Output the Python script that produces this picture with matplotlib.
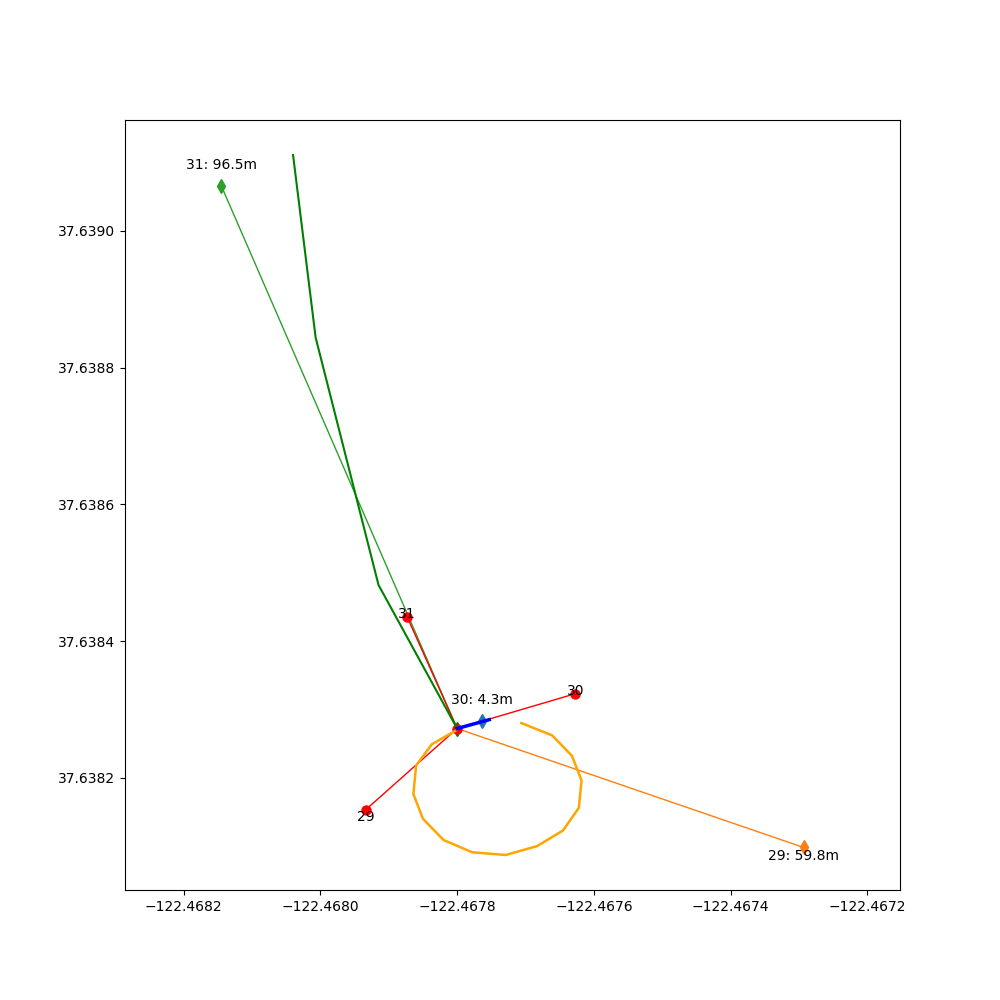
import matplotlib

matplotlib.use("Agg")
import matplotlib.pyplot as plt

# centre point (shared origin of all spokes)
center = (-122.467800, 37.638272)

# numbered stops (red dots)
stop_ids = ["31", "30", "29"]
stop_lon = [-122.467873, -122.467627, -122.467934]
stop_lat = [37.638435, 37.638323, 37.638153]

# projected positions with distance labels (diamonds)
proj_lon = [-122.468145, -122.467763, -122.467293]
proj_lat = [37.639066, 37.638283, 37.638098]
proj_dist = [96.5, 4.3, 59.8]

# green track
track_lon = [-122.468040, -122.468007, -122.467915, -122.467800]
track_lat = [37.639111, 37.638844, 37.638482, 37.638272]

# short blue heading segment
head_lon = [-122.467800, -122.467753]
head_lat = [37.638272, 37.638285]

# orange loop
loop_lon = [-122.467706, -122.467661, -122.467632, -122.467618, -122.467622,
            -122.467645, -122.467683, -122.467729, -122.467778, -122.467820,
            -122.467850, -122.467864, -122.467860, -122.467837, -122.467802]
loop_lat = [37.638280, 37.638262, 37.638232, 37.638196, 37.638156,
            37.638123, 37.638100, 37.638087, 37.638091, 37.638109,
            37.638140, 37.638176, 37.638218, 37.638249, 37.638269]

proj_colors = ["C2", "C0", "C1"]
stop_va = ["bottom", "bottom", "top"]
stop_offset = [(0, -3), (0, -3), (0, 0)]
dist_offset = [(0, 10), (0, 10), (0, -1)]
dist_va = ["bottom", "bottom", "top"]

fig, ax = plt.subplots(figsize=(10, 10))

for i in range(3):
    ax.plot([center[0], proj_lon[i]], [center[1], proj_lat[i]], color=proj_colors[i], lw=1)
    ax.plot(proj_lon[i], proj_lat[i], marker="d", color=proj_colors[i], ms=7, ls="none")

for i in range(3):
    ax.plot([center[0], stop_lon[i]], [center[1], stop_lat[i]], color="red", lw=1)
ax.plot(center[0], center[1], marker="d", color="green", ms=7)
ax.plot(stop_lon, stop_lat, "o", color="red", ms=6.5)
ax.plot(center[0], center[1], "o", color="red", ms=6.5)

ax.plot(track_lon, track_lat, color="green", lw=1.5)
ax.plot(loop_lon, loop_lat, color="orange", lw=1.8)
ax.plot(head_lon, head_lat, color="blue", lw=2.5)

for i in range(3):
    ax.annotate(stop_ids[i], (stop_lon[i], stop_lat[i]), xytext=stop_offset[i],
                textcoords="offset points", ha="center", va=stop_va[i], fontsize=10)
    ax.annotate(f"{stop_ids[i]}: {proj_dist[i]}m", (proj_lon[i], proj_lat[i]),
                xytext=dist_offset[i], textcoords="offset points",
                ha="center", va=dist_va[i], fontsize=10)

ax.set_aspect("equal", adjustable="datalim")
ax.xaxis.set_major_locator(matplotlib.ticker.MultipleLocator(0.0002))
ax.yaxis.set_major_locator(matplotlib.ticker.MultipleLocator(0.0002))
ax.ticklabel_format(useOffset=False)

fig.savefig("out.png", dpi=100)
